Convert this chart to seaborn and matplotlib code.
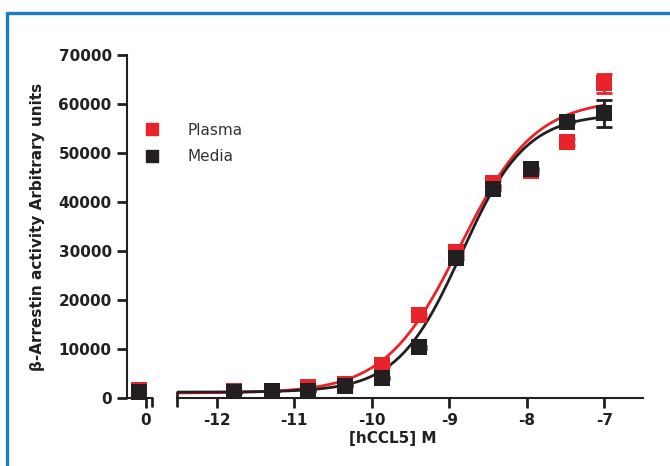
import numpy as np
import pandas as pd
import seaborn as sns
import matplotlib.pyplot as plt
from matplotlib.lines import Line2D

# log10 [hCCL5] M for the dilution series (half-log ~3-fold steps)
log_conc = [-7.0, -7.48, -7.95, -8.43, -8.91, -9.39, -9.86, -10.34, -10.82, -11.29, -11.77]
plasma = [64200, 52200, 46300, 43900, 29800, 16900, 6740, 2860, 2250, 1430, 1430]
media = [58100, 56400, 46700, 42700, 28600, 10400, 4080, 2450, 1430, 1430, 1220]
plasma_err = [2000, 600, 500, 500, 300, 300, 300, 200, 200, 100, 100]
media_err = [2700, 300, 300, 300, 300, 300, 200, 200, 100, 100, 100]

# zero-concentration controls
plasma_zero = 1730
media_zero = 1220

# 4PL fit parameters: bottom, top, logEC50, hill slope
plasma_fit = (1000, 61000, -8.86, 0.9)
media_fit = (1200, 58000, -8.84, 1.05)

RED = "#e8232a"
BLACK = "#231f20"


def four_pl(x, bottom, top, logec50, hill):
    return bottom + (top - bottom) / (1 + 10 ** ((logec50 - x) * hill))


sns.set_style("ticks")
plt.rcParams["font.family"] = ["DejaVu Sans"]
plt.rcParams["axes.unicode_minus"] = False
plt.rcParams["axes.linewidth"] = 1.5
plt.rcParams["axes.edgecolor"] = BLACK

fig = plt.figure(figsize=(6.7, 4.66), dpi=100)
W, H = 670, 466
bottom = (H - 398) / H
height = (398 - 55) / H
ax1 = fig.add_axes([127 / W, bottom, 25 / W, height])
ax2 = fig.add_axes([177 / W, bottom, 466 / W, height], sharey=ax1)

df = pd.DataFrame({
    "logc": log_conc * 2,
    "value": plasma + media,
    "err": plasma_err + media_err,
    "Sample": ["Plasma"] * len(log_conc) + ["Media"] * len(log_conc),
})
zero_df = pd.DataFrame({"x": [0, 0], "value": [plasma_zero, media_zero],
                        "Sample": ["Plasma", "Media"]})
palette = {"Plasma": RED, "Media": BLACK}

# fitted curves
xs = np.linspace(-12.5, -7.0, 300)
curves = pd.DataFrame({
    "logc": np.concatenate([xs, xs]),
    "value": np.concatenate([four_pl(xs, *plasma_fit), four_pl(xs, *media_fit)]),
    "Sample": ["Plasma"] * len(xs) + ["Media"] * len(xs),
})
sns.lineplot(data=curves, x="logc", y="value", hue="Sample", palette=palette,
             hue_order=["Plasma", "Media"], linewidth=2, legend=False, ax=ax2)

# error bars + points, plasma first then media on top
for name, z in [("Plasma", 3), ("Media", 5)]:
    sub = df[df["Sample"] == name]
    ax2.errorbar(sub["logc"], sub["value"], yerr=sub["err"], fmt="none",
                 ecolor=palette[name], elinewidth=2, capsize=5.8, capthick=2,
                 zorder=z)
    sns.scatterplot(data=sub, x="logc", y="value", color=palette[name], marker="s",
                    s=120, linewidth=0, ax=ax2, zorder=z + 1, legend=False)
    sns.scatterplot(data=zero_df[zero_df["Sample"] == name], x="x", y="value",
                    color=palette[name], marker="s", s=120, linewidth=0,
                    ax=ax1, zorder=z + 1, clip_on=False, legend=False)

# axes ranges and ticks
ax1.set_ylim(0, 70000)
ax1.set_yticks(np.arange(0, 70001, 10000))
ax1.set_xlim(-0.48, 0.52)
ax1.set_xticks([0.27], labels=["0"])
ax2.set_xlim(-12.51, -6.5)
ax2.set_xticks([-12, -11, -10, -9, -8, -7])

for ax in (ax1, ax2):
    ax.tick_params(axis="both", length=7, width=2, color=BLACK, labelsize=11,
                   pad=4)
    for lbl in ax.get_xticklabels() + ax.get_yticklabels():
        lbl.set_fontweight("bold")
        lbl.set_color(BLACK)
    ax.spines["top"].set_visible(False)
    ax.spines["right"].set_visible(False)
    ax.set_xlabel("")
    ax.set_ylabel("")

ax2.spines["left"].set_visible(False)
ax2.tick_params(axis="y", left=False, labelleft=False)

# axis break marks
ax1.plot([1, 1], [0, -0.024], transform=ax1.transAxes, color=BLACK, lw=2,
         clip_on=False)
ax2.plot([0, 0], [-0.022, 0.018], transform=ax2.transAxes, color=BLACK, lw=2,
         clip_on=False)

ax1.set_ylabel("β-Arrestin activity Arbitrary units", fontsize=11,
               fontweight="bold", color=BLACK, labelpad=10)
fig.text(393 / W, 1 - 439 / H, "[hCCL5] M", fontsize=11, fontweight="bold",
         color=BLACK, ha="center", va="center")

# legend
handles = [Line2D([], [], marker="s", ls="", color=RED, markersize=8),
           Line2D([], [], marker="s", ls="", color=BLACK, markersize=8)]
fig.legend(handles, ["Plasma", "Media"], loc="center left",
           bbox_to_anchor=(137 / W, 1 - 143.5 / H), frameon=False,
           fontsize=11, labelcolor="#333333", handlelength=2.0,
           handletextpad=1.3, labelspacing=0.75, borderpad=0,
           borderaxespad=0)

# blue frame
fig.add_artist(Line2D([7 / W, 1], [1 - 13 / H, 1 - 13 / H], color="#1a7dc2",
                      lw=2.4, transform=fig.transFigure))
fig.add_artist(Line2D([7 / W, 7 / W], [0, 1 - 13 / H], color="#1a7dc2",
                      lw=2.4, transform=fig.transFigure))

plt.savefig("out.png", dpi=100)
